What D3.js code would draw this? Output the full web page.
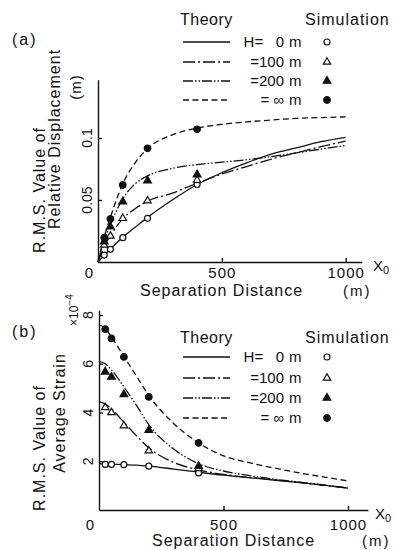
<!DOCTYPE html>
<html>
<head>
<meta charset="utf-8">
<script src="https://cdn.jsdelivr.net/npm/d3@7"></script>
<style>
body { margin: 0; background: #fff; }
text { font-family: "Liberation Sans", Arial, sans-serif; fill: #111; white-space: pre; }
</style>
</head>
<body>
<div id="chart"></div>
<script>
// theory curves are all read on the same grid of separation distances (m)
var theoryX = [0, 25, 50, 100, 150, 200, 300, 400, 500, 600, 700, 800, 900, 1000];
// simulation points
var simX = [25, 50, 100, 200, 400];

// (a) R.M.S. relative displacement (m)
var dispTheoryH0   = [0, 0.0055, 0.0105, 0.020, 0.028, 0.036, 0.050, 0.0625, 0.072, 0.080, 0.087, 0.092, 0.097, 0.1005];
var dispTheoryH100 = [0, 0.0125, 0.021, 0.035, 0.043, 0.049, 0.0555, 0.0635, 0.071, 0.077, 0.083, 0.088, 0.093, 0.0975];
var dispTheoryH200 = [0, 0.017, 0.030, 0.051, 0.063, 0.0695, 0.0755, 0.0785, 0.0805, 0.0825, 0.085, 0.088, 0.091, 0.094];
var dispTheoryInf  = [0, 0.020, 0.036, 0.063, 0.080, 0.0915, 0.1025, 0.108, 0.111, 0.113, 0.1145, 0.1158, 0.1165, 0.117];
var dispSimH0   = [0.0056, 0.0102, 0.0196, 0.0352, 0.0625];
var dispSimH100 = [0.0137, 0.021, 0.0352, 0.0494, 0.066];
var dispSimH200 = [0.0164, 0.0285, 0.0486, 0.0656, 0.0705];
var dispSimInf  = [0.0196, 0.0347, 0.0621, 0.0917, 0.107];

// (b) R.M.S. average strain (x10^-4)
var strainTheoryH0   = [1.9, 1.89, 1.88, 1.86, 1.84, 1.8, 1.68, 1.55, 1.43, 1.33, 1.23, 1.13, 1.02, 0.9];
var strainTheoryH100 = [4.45, 4.35, 4.15, 3.6, 3.05, 2.55, 1.95, 1.65, 1.46, 1.34, 1.24, 1.13, 1.02, 0.9];
var strainTheoryH200 = [6.1, 6.0, 5.75, 5.05, 4.3, 3.5, 2.5, 1.9, 1.6, 1.42, 1.27, 1.15, 1.03, 0.91];
var strainTheoryInf  = [7.6, 7.45, 7.1, 6.3, 5.5, 4.7, 3.55, 2.75, 2.22, 1.95, 1.73, 1.53, 1.36, 1.19];
var strainSimH0   = [1.87, 1.87, 1.86, 1.80, 1.52];
var strainSimH100 = [4.21, 4.0, 3.46, 2.43, 1.70];
var strainSimH200 = [5.67, 5.46, 4.74, 3.28, 1.80];
var strainSimInf  = [7.42, 7.04, 6.28, 4.64, 2.75];

// ticks
var xTicks = [500, 1000];
var dispTicks = [0.05, 0.1];
var dispTickLabels = ["0.05", "0.1"];
var strainTicks = [2, 4, 6, 8];
var strainTickLabels = ["2", "4", "6", "8"];

// legend
var legendValues = ["H=   0", "=100", "=200", "= \u221e"];

var w = 398, h = 550;
var ink = "#111";

var svg = d3.select("#chart").append("svg")
    .attr("width", w)
    .attr("height", h);
svg.append("rect").attr("width", w).attr("height", h).attr("fill", "#fff");

// line styles and markers for H = 0, 100, 200, inf
var dashes = [null, "12,3,2,3", "10,2,1.5,2,1.5,2", "6,3.5"];
var marks = [
    { type: d3.symbolCircle, size: 28, fill: "#fff" },
    { type: d3.symbolTriangle, size: 24, fill: "#fff" },
    { type: d3.symbolTriangle, size: 26, fill: ink },
    { type: d3.symbolCircle, size: 34, fill: ink }
];

function drawPanel(p) {
    var xScale = d3.scaleLinear().domain([0, 1000]).range([p.x0, p.x1000]);
    var yScale = d3.scaleLinear().domain([0, p.yRef]).range([p.yBase, p.yRefPx]);

    var g = svg.append("g");

    // axes, longer than the data range
    var xAxisScale = xScale.copy().domain([0, p.xEnd]).range([p.x0, xScale(p.xEnd)]);
    var yAxisScale = yScale.copy().domain([0, p.yEnd]).range([p.yBase, yScale(p.yEnd)]);

    var xAxis = g.append("g")
        .attr("transform", "translate(0," + p.yBase + ")")
        .call(d3.axisBottom(xAxisScale).tickValues(xTicks).tickSizeInner(-4).tickSizeOuter(0).tickFormat(d3.format("d")))
        .attr("font-family", null)
        .attr("font-size", 15)
        .attr("color", ink);
    xAxis.selectAll("text").attr("y", p.xLabelDy).attr("dy", null).attr("letter-spacing", 1);

    var yAxis = g.append("g")
        .attr("transform", "translate(" + p.x0 + ",0)")
        .call(d3.axisLeft(yAxisScale).tickValues(p.yTicks).tickSizeInner(-4).tickSizeOuter(0).tickFormat(""))
        .attr("color", ink);
    g.selectAll(".domain, .tick line").attr("stroke-width", 1.4);

    // rotated y tick labels
    g.selectAll(".ylab")
        .data(p.yTicks)
        .enter()
        .append("text")
        .attr("class", "ylab")
        .attr("transform", function (d) { return "translate(" + p.yLabelX + "," + yScale(d) + ") rotate(-90)"; })
        .attr("text-anchor", "middle")
        .attr("font-size", 14)
        .text(function (d, i) { return p.yTickLabels[i]; });

    // shared zero at the corner
    g.append("text")
        .attr("x", p.x0 - 9)
        .attr("y", p.yBase + p.xLabelDy)
        .attr("text-anchor", "middle")
        .attr("font-size", 15)
        .text("0");

    // theory curves
    var line = d3.line()
        .x(function (d) { return xScale(d[0]); })
        .y(function (d) { return yScale(d[1]); })
        .curve(d3.curveMonotoneX);

    p.theory.forEach(function (vals, i) {
        g.append("path")
            .datum(theoryX.map(function (x, j) { return [x, vals[j]]; }))
            .attr("d", line)
            .attr("fill", "none")
            .attr("stroke", ink)
            .attr("stroke-width", 1.3)
            .attr("stroke-dasharray", dashes[i]);
    });

    // simulation points
    p.sim.forEach(function (vals, i) {
        g.selectAll(".pt" + i)
            .data(simX.map(function (x, j) { return [x, vals[j]]; }))
            .enter()
            .append("path")
            .attr("class", "pt" + i)
            .attr("transform", function (d) { return "translate(" + xScale(d[0]) + "," + yScale(d[1]) + ")"; })
            .attr("d", d3.symbol().type(marks[i].type).size(marks[i].size))
            .attr("fill", marks[i].fill)
            .attr("stroke", ink)
            .attr("stroke-width", 1.2);
    });

    // x labels
    g.append("text")
        .attr("x", p.xEndLabel)
        .attr("y", p.yBase + 9)
        .attr("font-size", 15)
        .text("X")
        .append("tspan")
        .attr("font-size", 11)
        .attr("dy", 3)
        .text("0");

    g.append("text")
        .attr("x", p.sepX)
        .attr("y", p.sepY)
        .attr("font-size", 16)
        .attr("letter-spacing", 1)
        .text("Separation Distance");

    g.append("text")
        .attr("x", p.unitX)
        .attr("y", p.sepY)
        .attr("font-size", 15)
        .attr("letter-spacing", 2)
        .text("(m)");

    // y title, rotated
    p.yTitle.forEach(function (t) {
        g.append("text")
            .attr("transform", "translate(" + t[1] + "," + t[2] + ") rotate(-90)")
            .attr("text-anchor", "middle")
            .attr("font-size", t[3] || 16)
            .attr("letter-spacing", 1)
            .text(t[0]);
    });

    // panel tag
    g.append("text")
        .attr("x", 12)
        .attr("y", p.tagY)
        .attr("font-size", 16)
        .attr("letter-spacing", 2)
        .text(p.tag);

    // legend
    g.append("text").attr("x", 180).attr("y", p.legTop).attr("font-size", 16).attr("letter-spacing", 0.5).text("Theory");
    g.append("text").attr("x", 305).attr("y", p.legTop).attr("font-size", 16).attr("letter-spacing", 1).text("Simulation");

    p.legRows.forEach(function (ry, i) {
        g.append("line")
            .attr("x1", 183).attr("x2", 230)
            .attr("y1", ry).attr("y2", ry)
            .attr("stroke", ink)
            .attr("stroke-width", 1.3)
            .attr("stroke-dasharray", dashes[i]);
        g.append("text")
            .attr("x", 284).attr("y", ry + 5)
            .attr("text-anchor", "end")
            .attr("font-size", 15)
            .text(legendValues[i]);
        g.append("text")
            .attr("x", 289).attr("y", ry + 5)
            .attr("font-size", 15)
            .text("m");
        g.append("path")
            .attr("transform", "translate(327," + ry + ")")
            .attr("d", d3.symbol().type(marks[i].type).size(marks[i].size))
            .attr("fill", marks[i].fill)
            .attr("stroke", ink)
            .attr("stroke-width", 1.2);
    });
}

drawPanel({
    tag: "(a)", tagY: 45,
    x0: 98, x1000: 345.7, xEnd: 1065,
    yBase: 262, yRef: 0.1, yRefPx: 138, yEnd: 0.147,
    yTicks: dispTicks, yTickLabels: dispTickLabels, yLabelX: 92,
    xLabelDy: 16, xEndLabel: 373,
    sepX: 140, sepY: 296, unitX: 343,
    yTitle: [["R.M.S. Value of", 45, 190], ["Relative Displacement", 60, 139], ["(m)", 81, 87, 15]],
    theory: [dispTheoryH0, dispTheoryH100, dispTheoryH200, dispTheoryInf],
    sim: [dispSimH0, dispSimH100, dispSimH200, dispSimInf],
    legTop: 25, legRows: [42, 62, 81, 100]
});

drawPanel({
    tag: "(b)", tagY: 337,
    x0: 99, x1000: 348, xEnd: 1080,
    yBase: 510, yRef: 8, yRefPx: 315, yEnd: 8.2,
    yTicks: strainTicks, yTickLabels: strainTickLabels, yLabelX: 93,
    xLabelDy: 20, xEndLabel: 375,
    sepX: 152, sepY: 546, unitX: 362,
    yTitle: [["R.M.S. Value of", 45, 448], ["Average Strain", 65, 413]],
    theory: [strainTheoryH0, strainTheoryH100, strainTheoryH200, strainTheoryInf],
    sim: [strainSimH0, strainSimH100, strainSimH200, strainSimInf],
    legTop: 343, legRows: [357, 378, 398, 418]
});

// exponent of the strain axis
var expo = svg.append("text")
    .attr("transform", "translate(78,326) rotate(-90)")
    .attr("font-size", 12)
    .text("\u00d710");
expo.append("tspan")
    .attr("font-size", 10)
    .attr("dy", -5)
    .text("\u22124");
</script>
</body>
</html>
